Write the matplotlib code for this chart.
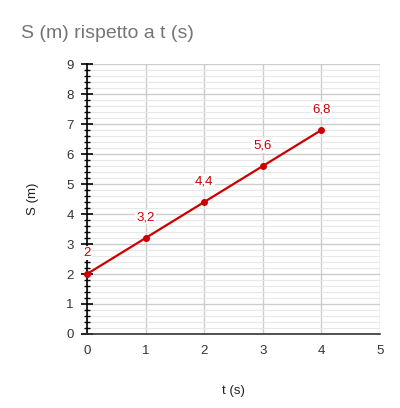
import numpy as np
import matplotlib.pyplot as plt
from matplotlib.ticker import MultipleLocator

plt.rcParams['font.family'] = ['Liberation Sans', 'DejaVu Sans']

# dati
t = [0, 1, 2, 3, 4]
s = [2, 3.2, 4.4, 5.6, 6.8]
etichette = ['2', '3,2', '4,4', '5,6', '6,8']
x_ticks = [0, 1, 2, 3, 4, 5]
y_ticks = [0, 1, 2, 3, 4, 5, 6, 7, 8, 9]

rosso = '#cc0000'

fig = plt.figure(figsize=(4.0, 4.08), dpi=100)
ax = fig.add_axes([0.2175, 0.1814, 0.7325, 0.6616])

ax.plot(t, s, color=rosso, lw=1.6, marker='o', ms=4, zorder=5, clip_on=False)
for xi, yi, lab in zip(t, s, etichette):
    ax.annotate(lab, (xi, yi), xytext=(0, 15), textcoords='offset points',
                ha='center', va='center', color=rosso, fontsize=9.5, zorder=10,
                annotation_clip=False,
                bbox=dict(boxstyle='square,pad=0.1', fc='white', ec='none'))

ax.set_xlim(0, 5)
ax.set_ylim(0, 9)
ax.set_xticks(x_ticks)
ax.set_yticks(y_ticks)
ax.yaxis.set_minor_locator(MultipleLocator(0.2))

ax.grid(which='major', color='#cccccc', lw=1)
ax.grid(which='minor', axis='y', color='#e8e8e8', lw=0.8)
ax.set_axisbelow(True)

for side in ['top', 'right']:
    ax.spines[side].set_visible(False)
ax.spines['left'].set_color('black')
ax.spines['left'].set_linewidth(1.2)
ax.spines['left'].set_zorder(2)
ax.spines['bottom'].set_color('#333333')
ax.spines['bottom'].set_linewidth(1.2)

ax.tick_params(axis='y', which='major', direction='inout', length=9, width=1.2,
               color='black', labelsize=9.5, labelcolor='#333333', pad=5)
ax.tick_params(axis='y', which='minor', direction='inout', length=4.5, width=1,
               color='black')
ax.tick_params(axis='x', which='major', length=0, labelsize=9.5,
               labelcolor='#333333', pad=8)

ax.set_xlabel('t (s)', fontsize=9.5, color='#222222', labelpad=20)
ax.set_ylabel('S (m)', fontsize=9.5, color='#222222', labelpad=20)

fig.text(0.052, 0.918, 'S (m) rispetto a t (s)', fontsize=14, color='#757575',
         ha='left', va='center')

fig.savefig('out.png', dpi=100)
